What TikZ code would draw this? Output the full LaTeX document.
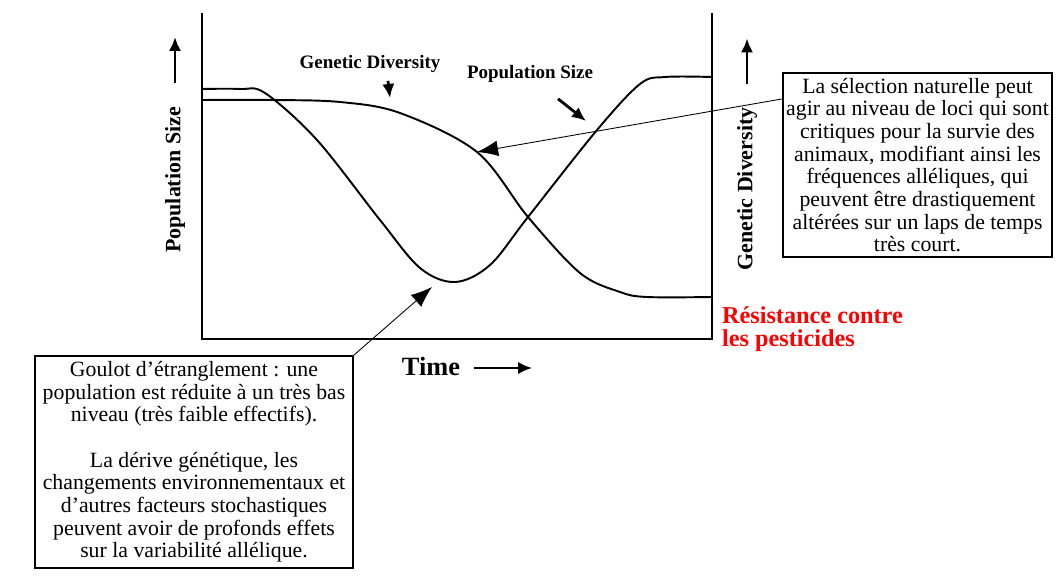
\documentclass[tikz,border=0pt]{standalone}
\usepackage{fontspec}
\setmainfont{Liberation Serif}
\usetikzlibrary{arrows.meta}
\usetikzlibrary{calc}

\begin{document}
\begin{tikzpicture}[x=0.02cm,y=-0.02cm,
    axe/.style={black, line width=1.4pt},
    courbe/.style={black, line width=1.1pt, smooth, tension=0.55},
    fleche/.style={black, line width=1.6pt, -{Latex[length=8pt,width=7pt]}},
    renvoi/.style={black, line width=0.5pt, -{Latex[length=12pt,width=9pt]}},
    boite/.style={draw=black, line width=1.1pt, align=center, inner sep=0pt,
        font=\fontsize{12.4}{12.9}\selectfont},
    etiq/.style={font=\bfseries\fontsize{10.8}{12}\selectfont},
    titre/.style={font=\bfseries\fontsize{12.5}{14}\selectfont}]
  \useasboundingbox (0,0) rectangle (1060,578);
  % axes
  \draw[axe] (202,13) -- (202,339) -- (712,339) -- (712,13);
  % population size
  \draw[courbe] plot coordinates {(202,89) (240,89) (265,93) (317,140) (380,220)
      (420,268) (455,282) (490,265) (528,217) (597,130) (640,84) (665,77) (712,77)};
  % genetic diversity
  \draw[courbe] plot coordinates {(202,100) (273,100) (340,102) (400,113) (477,152)
      (528,217) (580,273) (620,292) (647,297) (712,297)};
  % labels
  \node[etiq] (gdlab) at (370,64) {Genetic Diversity};
  \node[etiq] (pslab) at (530,74) {Population Size};
  \coordinate (gdtip) at (390,98);
  \coordinate (pstip) at (586,121);
  \draw[fleche] ($(gdlab.south)+(18,2)$) -- (gdtip);
  \draw[fleche] ($(pslab.south)+(28,10)$) -- (pstip);
  \node[titre, rotate=90] (ylab) at (175,180) {Population Size};
  \node[titre, rotate=90] (zlab) at (747,189) {Genetic Diversity};
  \draw[fleche] ($(ylab.east)+(0,-18)$) -- +(0,-46);
  \draw[fleche] ($(zlab.east)+(0,-17)$) -- +(0,-46);
  \node[font=\bfseries\fontsize{15}{16}\selectfont] (time) at (431,366) {Time};
  \draw[fleche] ($(time.east)+(8,2)$) -- +(58,0);
  \node[font=\bfseries\fontsize{13.8}{12.6}\selectfont, text=red, align=left, anchor=north west,
      inner sep=1pt] (pest) at (720,305) {Résistance contre\\les pesticides};
  % boxes
  \node[boite, minimum width=5.38cm, minimum height=3.68cm] (sel) at (917.5,165)
      {La sélection naturelle peut\\agir au niveau de loci qui sont\\critiques pour la survie des\\
       animaux, modifiant ainsi les\\fréquences alléliques, qui\\peuvent être drastiquement\\
       altérées sur un laps de temps\\très court.};
  \node[boite, minimum width=6.36cm, minimum height=4.24cm] (goulot) at (194,462)
      {Goulot d’étranglement : une\\population est réduite à un très bas\\niveau (très faible effectifs).\\[12.9pt]
       La dérive génétique, les\\changements environnementaux et\\d’autres facteurs stochastiques\\
       peuvent avoir de profonds effets\\sur la variabilité allélique.};
  \coordinate (gdpt) at (477,152);
  \coordinate (minpt) at (432,287);
  \draw[renvoi] (sel.154) -- (gdpt);
  \draw[renvoi] (goulot.north east) -- (minpt);
\end{tikzpicture}
\end{document}
